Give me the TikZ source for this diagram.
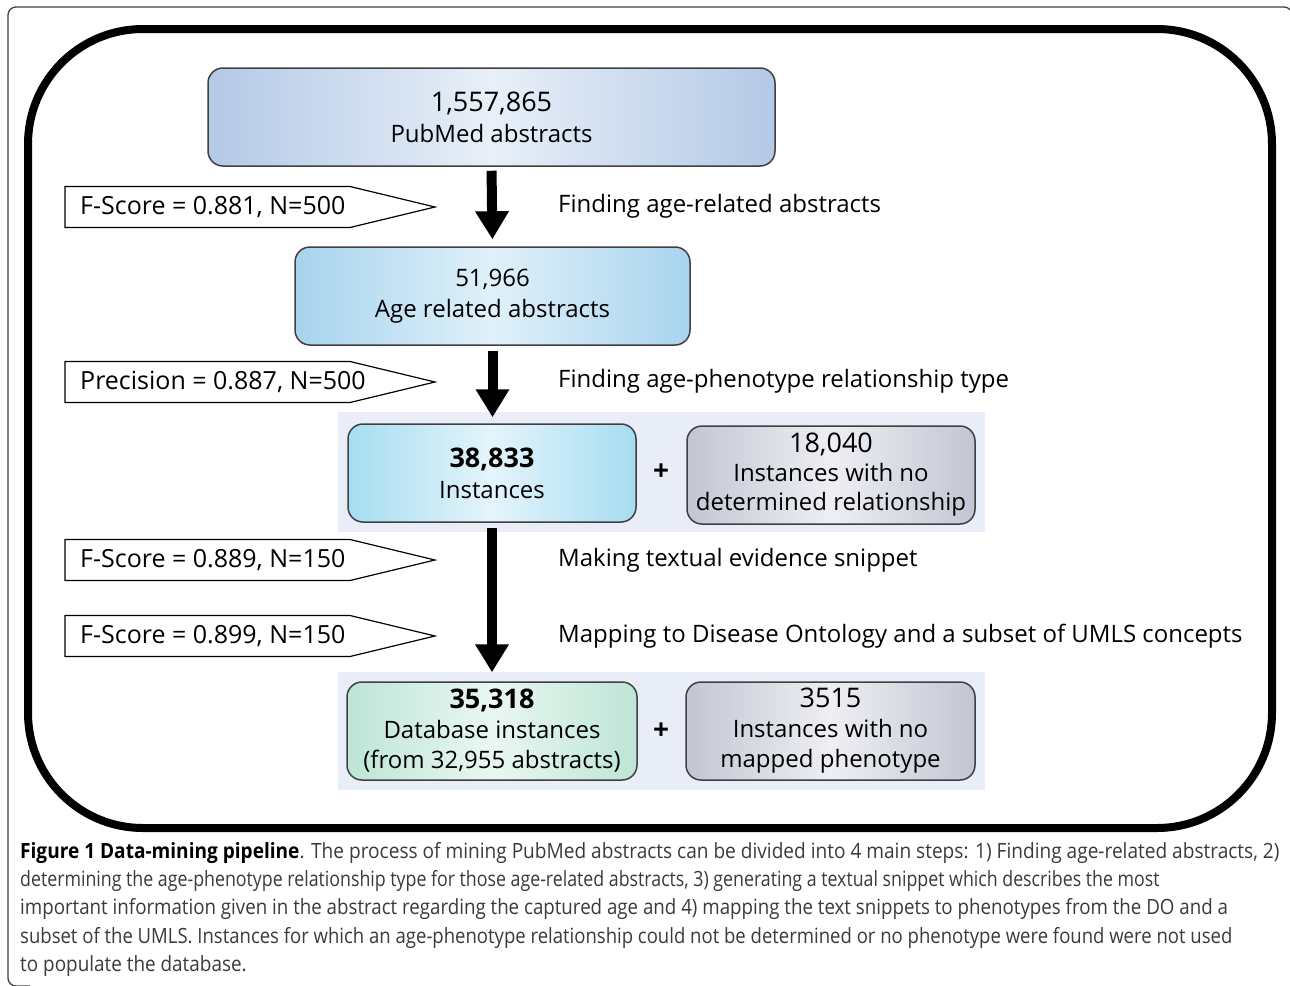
\documentclass[tikz,border=0pt]{standalone}
\usepackage{fontspec}
\usepackage{graphicx}
\setmainfont{Open Sans}
\newfontfamily\capfont[FakeStretch=0.9]{Open Sans}
\usetikzlibrary{arrows.meta}
\definecolor{frame}{HTML}{404040}
\definecolor{panel}{HTML}{E9EDF7}
\definecolor{capgray}{HTML}{3A3A3A}
\definecolor{blueedge}{RGB}{180,201,230}
\definecolor{bluemid}{RGB}{232,239,248}
\definecolor{skyedge}{RGB}{168,211,238}
\definecolor{skymid}{RGB}{224,241,250}
\definecolor{cyanedge}{RGB}{166,221,241}
\definecolor{cyanmid}{RGB}{228,244,251}
\definecolor{grayedge}{RGB}{194,198,210}
\definecolor{graymid}{RGB}{238,239,244}
\definecolor{greenedge}{RGB}{189,229,214}
\definecolor{greenmid}{RGB}{234,247,241}
\tikzset{
  stagebox/.style={draw=frame, line width=1.5pt, rounded corners=15pt, align=center,
    minimum height=98pt, inner sep=0pt, font=\fontsize{24}{31}\selectfont},
  blueshade/.style={left color=blueedge, right color=blueedge, middle color=bluemid},
  skyshade/.style={left color=skyedge, right color=skyedge, middle color=skymid},
  cyanshade/.style={left color=cyanedge, right color=cyanedge, middle color=cyanmid},
  grayshade/.style={left color=grayedge, right color=grayedge, middle color=graymid},
  greenshade/.style={left color=greenedge, right color=greenedge, middle color=greenmid},
  bigarrow/.style={line width=10pt, -{Triangle[length=28pt,width=32pt]}},
  steptext/.style={anchor=west, inner sep=0pt, font=\fontsize{24}{28}\selectfont},
  scoretext/.style={anchor=west, inner sep=0pt, font=\fontsize{25}{28}\selectfont},
  scoreshape/.style={draw=black, line width=1.2pt, fill=white},
  capline/.style={anchor=base west, inner sep=0pt, text=capgray, font=\capfont\fontsize{21}{28}\selectfont},
  plus/.style={inner sep=0pt, font=\bfseries\fontsize{28}{30}\selectfont}
}
\newcommand\scorebox[3]{%
  \draw[scoreshape] (65,#1-20.5) -- (350,#1-20.5) -- (435,#1) -- (350,#1+20.5) -- (65,#1+20.5) -- cycle;
  \node[scoretext] (#3) at (80,#1) {#2};}
\begin{document}
\begin{tikzpicture}[x=1pt,y=-1pt]
\useasboundingbox (0,0) rectangle (1290,985);
% outer thin frame
\draw[line width=1.3pt, frame, rounded corners=8pt] (1292,1000) -- (1292,7) -- (8,7) -- (8,986) -- (30,986);
% thick frame
\draw[line width=8pt, rounded corners=115pt] (28,29) rectangle (1272,828);
% panels
\fill[panel] (338,412) rectangle (985,532);
\fill[panel] (338,672) rectangle (985,790);
% boxes
\node[stagebox, blueshade, minimum width=567pt] (pubmed) at (491.5,117)
  {{\fontsize{27}{31}\selectfont 1,557,865}\\PubMed abstracts};
\node[stagebox, skyshade, minimum width=395pt] (agerel) at (492.5,296)
  {51,966\\Age related abstracts};
\node[stagebox, cyanshade, minimum width=288pt] (inst) at (492,473)
  {{\bfseries\fontsize{27}{31}\selectfont 38,833}\\Instances};
\node[stagebox, grayshade, minimum width=288pt, font=\fontsize{24}{29}\selectfont] (norel) at (831,475)
  {{\fontsize{27}{29}\selectfont 18,040}\\Instances with no\\determined relationship};
\node[stagebox, greenshade, minimum width=290pt, font=\fontsize{24}{30}\selectfont] (dbinst) at (492,731)
  {{\bfseries\fontsize{27}{30}\selectfont 35,318}\\Database instances\\(from 32,955 abstracts)};
\node[stagebox, grayshade, minimum width=289pt, font=\fontsize{24}{30}\selectfont] (nopheno) at (830.5,731)
  {{\fontsize{27}{30}\selectfont 3515}\\Instances with no\\mapped phenotype};
\node[plus] (plusa) at (661,472) {+};
\node[plus] (plusb) at (661,731) {+};
% arrows
\draw[bigarrow, shorten <=4pt, shorten >=7pt] (pubmed.south) -- (agerel.north);
\draw[bigarrow, shorten <=5pt, shorten >=6pt] (agerel.south) -- (agerel.south |- inst.north);
\draw[bigarrow, shorten <=5pt, shorten >=9pt] (inst.south) -- (inst.south |- dbinst.north);
% score boxes
\scorebox{207}{F-Score = 0.881, N=500}{sa}
\scorebox{382}{Precision = 0.887, N=500}{sb}
\scorebox{560}{F-Score = 0.889, N=150}{sc}
\scorebox{636}{F-Score = 0.899, N=150}{sd}
% step texts
\node[steptext] (ta) at (558,206) {Finding age-related abstracts};
\node[steptext] (tb) at (558,381) {Finding age-phenotype relationship type};
\node[steptext] (tc) at (558,560) {Making textual evidence snippet};
\node[steptext] (td) at (558,636) {Mapping to Disease Ontology and a subset of UMLS concepts};
% caption
\node[capline] (c1) at (20,858) {\scalebox{1.009}[1]{{\bfseries\color{black}Figure 1 Data-mining pipeline}. The process of mining PubMed abstracts can be divided into 4 main steps: 1) Finding age-related abstracts, 2)}};
\node[capline] (c2) at (20,886) {\scalebox{0.94}[1]{determining the age-phenotype relationship type for those age-related abstracts, 3) generating a textual snippet which describes the most}};
\node[capline] (c3) at (20,914) {\scalebox{0.99}[1]{important information given in the abstract regarding the captured age and 4) mapping the text snippets to phenotypes from the DO and a}};
\node[capline] (c4) at (20,943) {\scalebox{0.98}[1]{subset of the UMLS. Instances for which an age-phenotype relationship could not be determined or no phenotype were found were not used}};
\node[capline] (c5) at (20,971) {to populate the database.};
\end{tikzpicture}
\end{document}
